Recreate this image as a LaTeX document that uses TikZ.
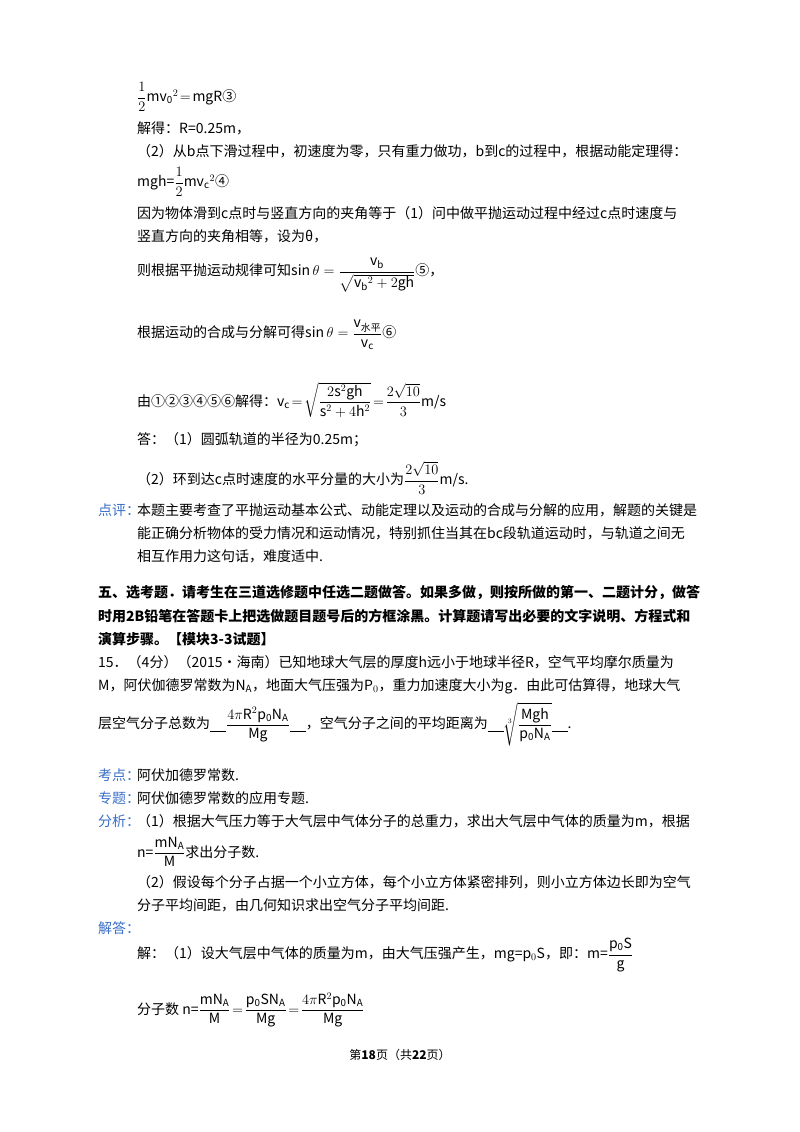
\documentclass[tikz,border=0pt]{standalone}
\usepackage{fontspec}
\usepackage{amsmath}
\setmainfont{Noto Sans CJK SC}
\definecolor{lab}{HTML}{3A6FC8}
\tikzset{ln/.style={anchor=west,inner sep=0pt,font=\fontsize{14}{16}\selectfont},
 lb/.style={ln,text=lab}}
\newcommand{\blank}{\underline{\hspace{16pt}}}
\begin{document}
\begin{tikzpicture}[x=1pt,y=-1pt]
\useasboundingbox (0,0) rectangle (800,1132);
\fill[white] (0,0) rectangle (800,1132);
\node[ln] (a1) at (137,97) {$\dfrac{1}{2}\mathrm{mv_0}^2\!=\!\mathrm{mgR}$③};
\node[ln] (a2) at (137,128) {解得：R=0.25m，};
\node[ln] (a3) at (137,151) {（2）从b点下滑过程中，初速度为零，只有重力做功，b到c的过程中，根据动能定理得：};
\node[ln] (a4) at (137,182) {mgh=$\dfrac{1}{2}\mathrm{mv_c}^2$④};
\node[ln] (a5) at (137,213) {因为物体滑到c点时与竖直方向的夹角等于（1）问中做平抛运动过程中经过c点时速度与};
\node[ln] (a6) at (137,236) {竖直方向的夹角相等，设为θ，};
\node[ln] (a7) at (137,275) {则根据平抛运动规律可知$\mathrm{sin}\,\theta=\dfrac{\mathrm{v_b}}{\sqrt{\mathrm{v_b}^2+2\mathrm{gh}}}$⑤，};
\node[ln] (a8) at (137,335) {根据运动的合成与分解可得$\mathrm{sin}\,\theta=\dfrac{\mathrm{v}_{\text{水平}}}{\mathrm{v_c}}$⑥};
\node[ln] (a9) at (137,400) {由①②③④⑤⑥解得：$\mathrm{v_c}\!=\!\sqrt{\dfrac{2\mathrm{s}^2\mathrm{gh}}{\mathrm{s}^2+4\mathrm{h}^2}}\!=\!\dfrac{2\sqrt{10}}{3}$m/s};
\node[ln] (a10) at (137,440) {答：（1）圆弧轨道的半径为0.25m；};
\node[ln] (a11) at (137,478) {（2）环到达c点时速度的水平分量的大小为$\dfrac{2\sqrt{10}}{3}$m/s.};
\node[lb] (b1) at (98,510) {点评：};
\node[ln] (b2) at (137,510) {本题主要考查了平抛运动基本公式、动能定理以及运动的合成与分解的应用，解题的关键是};
\node[ln] (b3) at (137,533) {能正确分析物体的受力情况和运动情况，特别抓住当其在bc段轨道运动时，与轨道之间无};
\node[ln] (b4) at (137,556) {相互作用力这句话，难度适中.};
\node[ln,font=\fontsize{14}{16}\selectfont\bfseries] (c1) at (98,593) {五、选考题．请考生在三道选修题中任选二题做答。如果多做，则按所做的第一、二题计分，做答};
\node[ln,font=\fontsize{14}{16}\selectfont\bfseries] (c2) at (98,616) {时用2B铅笔在答题卡上把选做题目题号后的方框涂黑。计算题请写出必要的文字说明、方程式和};
\node[ln,font=\fontsize{14}{16}\selectfont\bfseries] (c3) at (98,639) {演算步骤。【模块3-3试题】};
\node[ln] (d1) at (98,662) {15．（4分）（2015•海南）已知地球大气层的厚度h远小于地球半径R，空气平均摩尔质量为};
\node[ln] (d2) at (98,686) {M，阿伏伽德罗常数为N$_\mathrm{A}$，地面大气压强为P$_0$，重力加速度大小为g．由此可估算得，地球大气};
\node[ln] (d3) at (98,724) {层空气分子总数为\blank$\dfrac{4\pi\mathrm{R}^2\mathrm{p_0N_A}}{\mathrm{Mg}}$\blank，空气分子之间的平均距离为\blank$\sqrt[3]{\dfrac{\mathrm{Mgh}}{\mathrm{p_0N_A}}}$\blank.};
\node[lb] (e1) at (98,775) {考点：};
\node[ln] (e2) at (137,775) {阿伏加德罗常数.};
\node[lb] (f1) at (98,798) {专题：};
\node[ln] (f2) at (137,798) {阿伏伽德罗常数的应用专题.};
\node[lb] (g1) at (98,821) {分析：};
\node[ln] (g2) at (137,821) {（1）根据大气压力等于大气层中气体分子的总重力，求出大气层中气体的质量为m，根据};
\node[ln] (g3) at (137,852) {n=$\dfrac{\mathrm{mN_A}}{\mathrm{M}}$求出分子数.};
\node[ln] (g4) at (137,882) {（2）假设每个分子占据一个小立方体，每个小立方体紧密排列，则小立方体边长即为空气};
\node[ln] (g5) at (137,905) {分子平均间距，由几何知识求出空气分子平均间距.};
\node[lb] (h1) at (98,928) {解答：};
\node[ln] (h2) at (137,955) {解：（1）设大气层中气体的质量为m，由大气压强产生，mg=p$_0$S，即：m=$\dfrac{\mathrm{p_0S}}{\mathrm{g}}$};
\node[ln] (h3) at (137,1010) {分子数 n=$\dfrac{\mathrm{mN_A}}{\mathrm{M}}\!=\!\dfrac{\mathrm{p_0SN_A}}{\mathrm{Mg}}\!=\!\dfrac{4\pi\mathrm{R}^2\mathrm{p_0N_A}}{\mathrm{Mg}}$};
\node[inner sep=0pt,font=\fontsize{12}{14}\selectfont] (pg) at (400,1055) {第\textbf{18}页（共\textbf{22}页）};
\end{tikzpicture}
\end{document}
